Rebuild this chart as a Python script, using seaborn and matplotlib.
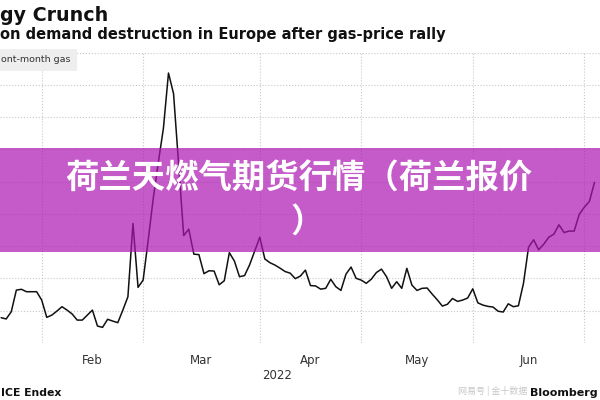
import matplotlib
matplotlib.use('Agg')
import matplotlib.pyplot as plt
from matplotlib.patches import Rectangle
import seaborn as sns
import pandas as pd

# Dutch front-month gas (TTF), daily closes, EUR/MWh, from 19 Jan 2022
start_date = '2022-01-19'
prices = [75.7, 74.9, 79.4, 92.8, 93.3, 91.8, 91.8, 91.8, 86.6, 75.9,
          77.3, 79.8, 82.5, 80.4, 78.0, 74.2, 74.2, 77.3, 80.4, 70.5,
          69.7, 74.7, 73.6, 72.6, 80.4, 88.7, 134.1, 94.5, 99.0, 123.8,
          149.8, 172.1, 193.1, 227.4, 214.6, 170.8, 126.6, 130.6, 115.1, 114.8,
          103.0, 104.8, 104.6, 96.1, 98.6, 116.0, 110.8, 101.1, 101.8, 108.5,
          117.0, 125.6, 112.1, 109.8, 108.3, 106.4, 104.3, 103.3, 99.9, 101.5,
          105.2, 95.6, 95.4, 93.4, 93.9, 99.5, 94.9, 92.6, 102.7, 107.1,
          100.1, 99.0, 97.0, 99.6, 103.7, 105.8, 101.1, 93.9, 98.0, 93.9,
          106.3, 95.9, 92.6, 93.9, 94.1, 90.3, 86.8, 82.9, 84.0, 87.6,
          85.8, 86.6, 87.9, 93.6, 84.9, 83.5, 82.7, 82.3, 79.7, 79.2,
          84.3, 82.5, 83.1, 97.0, 119.4, 124.0, 117.8, 121.3, 125.6, 127.5,
          133.3, 128.5, 129.4, 129.4, 139.8, 144.2, 147.8, 159.6]
holidays = ['2022-04-15']
month_labels = ['Jan', 'Feb', 'Mar', 'Apr', 'May', 'Jun']
y_grid = list(range(60, 241, 20))

title = 'gy Crunch'
subtitle = 'on demand destruction in Europe after gas-price rally'
legend_label = 'ont-month gas'
source = 'ICE Endex'
year_label = '2022'
banner_line1 = '荷兰天燃气期货行情（荷兰报价'
banner_line2 = '）'

# trading-day calendar (the chart is spaced by trading day)
cal = pd.bdate_range('2021-12-31', '2022-07-04')
cal = cal[~cal.isin(pd.to_datetime(holidays))]
idx = pd.Series(range(len(cal)), index=cal)
dates = cal[cal >= start_date][:len(prices)]
df = pd.DataFrame({'date': dates, 'price': prices})
df['pos'] = idx[dates].values

month_end = idx.groupby(cal.to_period('M')).max().values[:-1]  # Dec..Jun
label_pos = [(a + b) / 2 for a, b in zip(month_end[:-1], month_end[1:])]

sns.set_style('white')
plt.rcParams['font.family'] = ['DejaVu Sans', 'Noto Sans CJK SC']
cjk = ['Noto Sans CJK SC', 'DejaVu Sans']

fig = plt.figure(figsize=(6, 4), dpi=100)
ax = fig.add_axes([0, 57 / 400, 1, 290.3 / 400])
sns.lineplot(data=df, x='pos', y='price', ax=ax, color='#111111', lw=1.1)

ax.set_yticks(y_grid)
ax.tick_params(axis='y', length=0, labelleft=False)
ax.set_xticks(label_pos, labels=month_labels)
ax.set_xticks(month_end, minor=True)
# limits after the ticks, set_xticks widens the view
ax.set_xlim(12.777, 131.09)
ax.set_ylim(60, 240)
ax.tick_params(axis='x', which='major', length=0, pad=8, labelsize=8.5,
               labelcolor='#333333')
ax.tick_params(axis='x', which='minor', length=5, width=0.8, color='#d9d9d9')
ax.grid(False)
ax.grid(axis='y', which='major', ls=':', color='#c8c8c8', lw=0.8)
ax.grid(axis='x', which='minor', ls=':', color='#c8c8c8', lw=0.8)
for s in ax.spines.values():
    s.set_visible(False)
ax.set_xlabel('')
ax.set_ylabel('')

fig.text(0, 1 - 20.7 / 400, title, fontsize=13.7, fontweight='bold',
         va='baseline', color='#111111')
fig.text(0, 1 - 39.3 / 400, subtitle, fontsize=10.5, fontweight='bold',
         va='baseline', color='#111111')

# legend chip
fig.add_artist(Rectangle((0, 1 - 70.7 / 400), 77 / 600, 21.4 / 400,
                         transform=fig.transFigure, facecolor='#eeeeee',
                         lw=0, zorder=3))
fig.text(0.002, 1 - 60 / 400, legend_label, fontsize=6.8, va='center',
         color='#333333', zorder=4)

fig.text(277 / 600, 1 - 375.5 / 400, year_label, fontsize=8.5, ha='center',
         va='center', color='#333333')
fig.text(0.002, 1 - 396 / 400, source, fontsize=7.8, fontweight='bold',
         va='baseline', color='#111111')
fig.text(527 / 600, 1 - 391 / 400, '网易号 | 金十数据', fontsize=6.5,
         ha='right', va='center', color='#c8c8c8', family=cjk)
fig.text(598 / 600, 1 - 396 / 400, 'Bloomberg', fontsize=8, fontweight='bold',
         ha='right', va='baseline', color='#111111')

# overlay banner
fig.add_artist(Rectangle((0, 148 / 400), 1, 104 / 400,
                         transform=fig.transFigure, facecolor='#ab16b1',
                         lw=0, alpha=0.7, zorder=5))
fig.text(0.4975, 1 - 179 / 400, banner_line1, ha='center', va='center',
         fontsize=24, fontweight='bold', color='white', family=cjk, zorder=6)
fig.text(307 / 600, 1 - 222 / 400, banner_line2, ha='center', va='center',
         fontsize=24, fontweight='bold', color='white', family=cjk, zorder=6)

fig.savefig('out.png', dpi=100)
